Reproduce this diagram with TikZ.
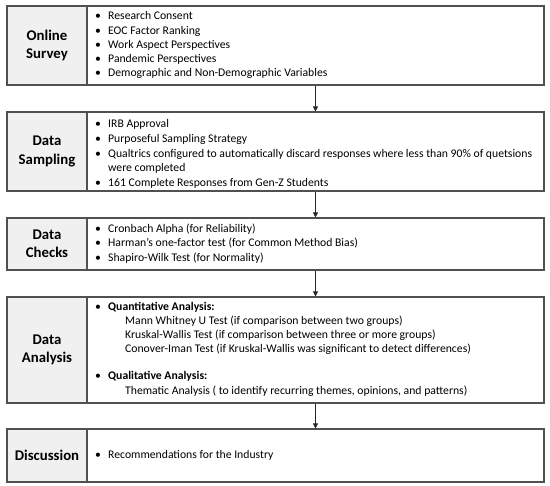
\documentclass[tikz,border=0pt]{standalone}
\usepackage{fontspec}
\setmainfont{Carlito}
\usetikzlibrary{arrows.meta}
\definecolor{edge}{HTML}{505050}
\definecolor{lblfill}{HTML}{F0F0F0}
\tikzset{
  labelbox/.style={draw=edge, line width=1.1pt, fill=lblfill, inner sep=0pt, minimum width=80pt,
    align=center, font=\fontsize{14.8}{18.5}\selectfont\bfseries},
  contbox/.style={draw=edge, line width=1.1pt, fill=white, inner sep=0pt, minimum width=457pt},
  item/.style={anchor=west, inner sep=0pt, font=\fontsize{11.7}{14}\selectfont, text height=7.8pt, text depth=2.3pt},
  flow/.style={draw=black!85, line width=0.8pt, -{Triangle[length=5pt,width=5pt]}}
}
\newcommand{\bul}{\makebox[13pt][l]{\textbullet}}
\begin{document}
\begin{tikzpicture}[x=1pt,y=-1pt]
\useasboundingbox (0,0) rectangle (550,486);
% box 1
\node[contbox, minimum height=79pt] (C1) at (315.5,45.5) {};
\node[labelbox, minimum height=79pt] (L1) at (47,45.5) {Online\\Survey};
\node[item] (t11) at (95,17) {\bul Research Consent};
\node[item] (t12) at (95,31.5) {\bul EOC Factor Ranking};
\node[item] (t13) at (95,45.5) {\bul Work Aspect Perspectives};
\node[item] (t14) at (95,60) {\bul Pandemic Perspectives};
\node[item] (t15) at (95,74) {\bul Demographic and Non-Demographic Variables};
% box 2
\node[contbox, minimum height=79pt] (C2) at (315.5,151.5) {};
\node[labelbox, minimum height=79pt] (L2) at (47,151.5) {Data\\Sampling};
\node[item] (t21) at (95,124.5) {\bul IRB Approval};
\node[item] (t22) at (95,139.5) {\bul Purposeful Sampling Strategy};
\node[item] (t23) at (95,154.5) {\bul Qualtrics configured to automatically discard responses where less than 90\% of quetsions};
\node[item] (t24) at (108,169) {were completed};
\node[item] (t25) at (95,184) {\bul 161 Complete Responses from Gen-Z Students};
% box 3
\node[contbox, minimum height=52pt] (C3) at (315.5,244) {};
\node[labelbox, minimum height=52pt] (L3) at (47,244) {Data\\Checks};
\node[item] (t31) at (95,230) {\bul Cronbach Alpha (for Reliability)};
\node[item] (t32) at (95,244) {\bul Harman's one-factor test (for Common Method Bias)};
\node[item] (t33) at (95,258.5) {\bul Shapiro-Wilk Test (for Normality)};
% box 4
\node[contbox, minimum height=106pt] (C4) at (315.5,350) {};
\node[labelbox, minimum height=106pt] (L4) at (47,350) {Data\\Analysis};
\node[item] (t41) at (95,308) {\bul\textbf{Quantitative Analysis:}};
\node[item] (t42) at (125,322) {Mann Whitney U Test (if comparison between two groups)};
\node[item] (t43) at (125,336) {Kruskal-Wallis Test (if comparison between three or more groups)};
\node[item] (t44) at (125,349.5) {Conover-Iman Test (if Kruskal-Wallis was significant to detect differences)};
\node[item] (t45) at (95,377) {\bul\textbf{Qualitative Analysis:}};
\node[item] (t46) at (125,391.5) {Thematic Analysis ( to identify recurring themes, opinions, and patterns)};
% box 5
\node[contbox, minimum height=53pt] (C5) at (315.5,455.5) {};
\node[labelbox, minimum height=53pt] (L5) at (47,455.5) {Discussion};
\node[item] (t51) at (95,455.5) {\bul Recommendations for the Industry};
% arrows
\draw[flow] (C1.south) -- (C2.north);
\draw[flow] (C2.south) -- (C3.north);
\draw[flow] (C3.south) -- (C4.north);
\draw[flow] (C4.south) -- (C5.north);
\end{tikzpicture}
\end{document}
